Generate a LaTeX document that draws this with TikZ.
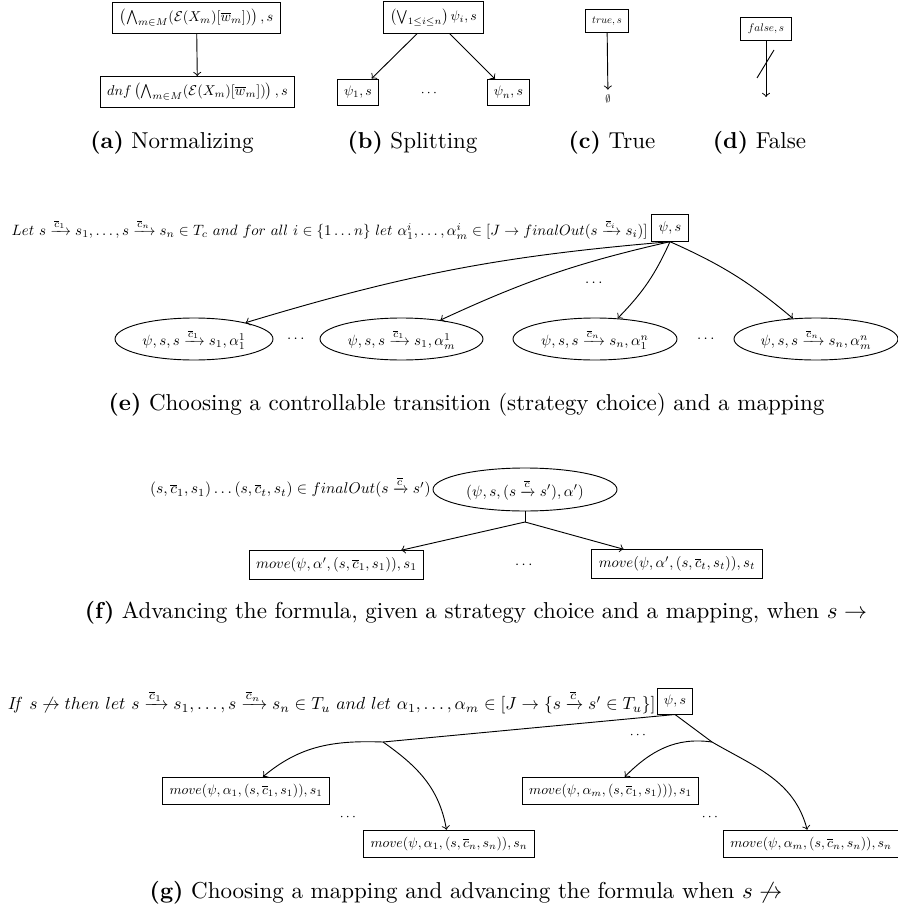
\documentclass[tikz,border=0pt]{standalone}
\usepackage{amsmath,amssymb}
\usepackage{graphicx}
\usetikzlibrary{shapes.geometric}
\newcommand\pxu{0.4348pt}
\newcommand\txs[2]{\scalebox{#1}{#2}}
\tikzset{
  bx/.style={draw, inner sep=3pt},
  el/.style={draw, ellipse, inner sep=0pt},
  captxt/.style={font=\normalsize},
  plain/.style={inner sep=0pt},
  arr/.style={->},
}
\begin{document}
\begin{tikzpicture}[x=\pxu, y=-\pxu, line width=0.4pt]
\useasboundingbox (0,0) rectangle (897,920);
% (a)
\node[bx] (a1) at (196.5,17.5) {\txs{0.62}{$\left(\bigwedge_{m\in M}(\mathcal{E}(X_m)[\overline{w}_m])\right), s$}};
\node[bx] (a2) at (197.5,92) {\txs{0.62}{$dnf\left(\bigwedge_{m\in M}(\mathcal{E}(X_m)[\overline{w}_m])\right), s$}};
\draw[arr] (a1) -- (a2);
\node[captxt] (ca) at (172,143) {\textbf{(a)} Normalizing};
% (b)
\node[bx] (b1) at (433.5,17.5) {\txs{0.6}{$\bigl(\bigvee_{1\le i\le n}\bigr)\,\psi_i, s$}};
\node[bx] (b2) at (358,92) {\txs{0.6}{$\psi_1, s$}};
\node[bx] (b3) at (508.5,92.5) {\txs{0.6}{$\psi_n, s$}};
\node[plain] (bd) at (430,93) {\txs{0.6}{$\cdots$}};
\draw[arr] (b1) -- (b2);
\draw[arr] (b1) -- (b3);
\node[captxt] (cb) at (412.5,143) {\textbf{(b)} Splitting};
% (c)
\node[bx] (c1) at (607,21) {\txs{0.46}{$true, s$}};
\node[inner sep=2pt] (c2) at (608,99) {\txs{0.46}{$\emptyset$}};
\draw[arr] (c1) -- (c2);
\node[captxt] (cc) at (612,143) {\textbf{(c)} True};
% (d)
\node[bx] (d1) at (766,29) {\txs{0.48}{$false, s$}};
\coordinate (d2) at (766,97);
\coordinate (ds1) at (757,78);
\coordinate (ds2) at (774,50);
\draw[arr] (d1) -- (d2);
\draw (ds1) -- (ds2);
\node[captxt] (cd) at (759.5,143) {\textbf{(d)} False};
% (e)
\node[bx] (e0) at (670,228) {\txs{0.62}{$\psi, s$}};
\node[plain, anchor=east] (et) at (648,229) {\txs{0.65}{$Let~s \xrightarrow{\overline{c}_1} s_1, \ldots, s \xrightarrow{\overline{c}_n} s_n \in T_c~and~for~all~i \in \{1\ldots n\}~let~\alpha^i_1, \ldots, \alpha^i_m \in [J \rightarrow finalOut(s \xrightarrow{\overline{c}_i} s_i)]$}};
\node[el, minimum width=158*\pxu, minimum height=42*\pxu] (e1) at (194,339) {\txs{0.65}{$\psi, s, s \xrightarrow{\overline{c}_1} s_1, \alpha^1_1$}};
\node[el, minimum width=163*\pxu, minimum height=42*\pxu] (e2) at (401.5,339) {\txs{0.65}{$\psi, s, s \xrightarrow{\overline{c}_1} s_1, \alpha^1_m$}};
\node[el, minimum width=164*\pxu, minimum height=42*\pxu] (e3) at (595,339) {\txs{0.65}{$\psi, s, s \xrightarrow{\overline{c}_n} s_n, \alpha^n_1$}};
\node[el, minimum width=164*\pxu, minimum height=42*\pxu] (e4) at (816,339) {\txs{0.65}{$\psi, s, s \xrightarrow{\overline{c}_n} s_n, \alpha^n_m$}};
\node[plain] (ed1) at (297,339) {\txs{0.65}{$\cdots$}};
\node[plain] (ed2) at (707,339) {\txs{0.65}{$\cdots$}};
\node[plain] (ed3) at (595,283) {\txs{0.65}{$\cdots$}};
\draw[arr] (e0.south) to[bend right=6] (e1);
\draw[arr] (e0.south) to[bend right=6] (e2);
\draw[arr] (e0.south) to[bend left=10] (e3);
\draw[arr] (e0.south) to[bend left=8] (e4);
\node[captxt] (ce) at (466.5,405) {\textbf{(e)} Choosing a controllable transition (strategy choice) and a mapping};
% (f)
\node[plain, anchor=east] (ft) at (431,487) {\txs{0.675}{$(s, \overline{c}_1, s_1)\ldots(s, \overline{c}_t, s_t) \in finalOut(s \xrightarrow{\overline{c}} s')$}};
\node[el, minimum width=184*\pxu, minimum height=43*\pxu] (f0) at (525,489.5) {\txs{0.66}{$(\psi, s, (s \xrightarrow{\overline{c}} s'), \alpha')$}};
\coordinate (fb) at (525,522);
\node[bx] (f1) at (336.5,565) {\txs{0.64}{$move(\psi, \alpha', (s, \overline{c}_1, s_1)), s_1$}};
\node[bx] (f2) at (677,564) {\txs{0.64}{$move(\psi, \alpha', (s, \overline{c}_t, s_t)), s_t$}};
\node[plain] (fd) at (525,565) {\txs{0.64}{$\cdots$}};
\draw (f0.south) -- (fb);
\draw[arr] (fb) -- (f1);
\draw[arr] (fb) -- (f2);
\node[captxt] (cf) at (476,613) {\textbf{(f)} Advancing the formula, given a strategy choice and a mapping, when $s \rightarrow$};
% (g)
\node[bx] (g0) at (675,701) {\txs{0.6}{$\psi, s$}};
\node[plain, anchor=east] (gt) at (656,702) {\txs{0.76}{$\mathit{If}~s \not\rightarrow then~let~s \xrightarrow{\overline{c}_1} s_1, \ldots, s \xrightarrow{\overline{c}_n} s_n \in T_u~and~let~\alpha_1, \ldots, \alpha_m \in [J \rightarrow \{s \xrightarrow{\overline{c}} s' \in T_u\}]$}};
\coordinate (g1) at (383,742);
\coordinate (g2) at (712,742);
\node[bx] (g11) at (246,791) {\txs{0.6}{$move(\psi, \alpha_1, (s, \overline{c}_1, s_1)), s_1$}};
\node[bx] (g12) at (449,844) {\txs{0.6}{$move(\psi, \alpha_1, (s, \overline{c}_n, s_n)), s_n$}};
\node[bx] (g21) at (610.5,791) {\txs{0.6}{$move(\psi, \alpha_m, (s, \overline{c}_1, s_1))), s_1$}};
\node[bx] (g22) at (811,844) {\txs{0.6}{$move(\psi, \alpha_m, (s, \overline{c}_n, s_n)), s_n$}};
\node[plain] (gd1) at (349,817) {\txs{0.6}{$\cdots$}};
\node[plain] (gd2) at (711,817) {\txs{0.6}{$\cdots$}};
\node[plain] (gd3) at (639,735) {\txs{0.6}{$\cdots$}};
\draw (g0.south) -- (g1);
\draw (g0.south) -- (g2);
\draw[arr] (g1) to[out=178, in=40] (g11);
\draw[arr] (g1) to[out=-35, in=100] (g12);
\draw[arr] (g2) to[out=172, in=45] (g21);
\draw[arr] (g2) to[out=-30, in=105] (g22);
\node[captxt] (cg) at (466,893) {\textbf{(g)} Choosing a mapping and advancing the formula when $s \not\rightarrow$};
\end{tikzpicture}
\end{document}
